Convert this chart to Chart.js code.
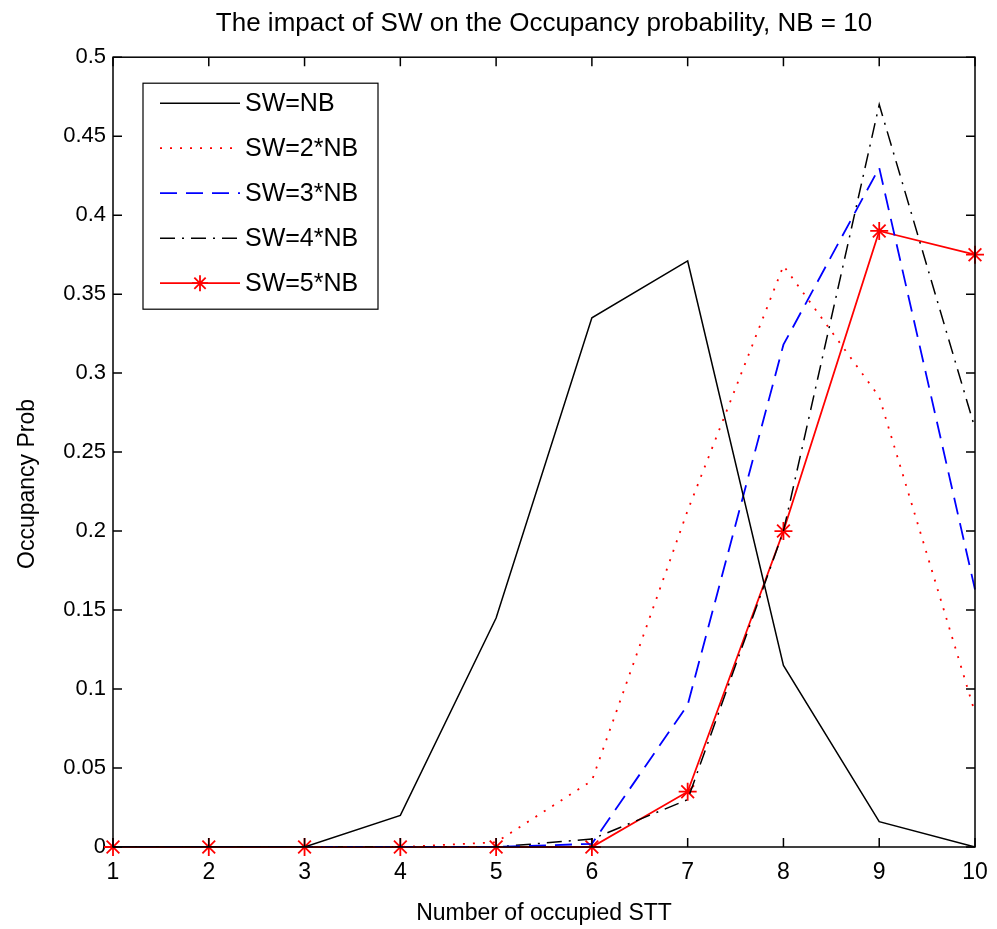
<!DOCTYPE html>
<html><head><meta charset="utf-8">
<script src="https://cdn.jsdelivr.net/npm/chart.js@4/dist/chart.umd.min.js"></script>
<style>html,body{margin:0;padding:0;background:#fff}#wrap{width:997px;height:929px}</style>
</head><body><div id="wrap"><canvas id="c" width="997" height="929"></canvas></div>
<script>
const categories = [1,2,3,4,5,6,7,8,9,10];
const swNB  = [0,0,0,0.020,0.145,0.335,0.371,0.115,0.016,0];
const sw2NB = [0,0,0,0,0.003,0.042,0.213,0.368,0.285,0.085];
const sw3NB = [0,0,0,0,0,0.002,0.090,0.318,0.430,0.163];
const sw4NB = [0,0,0,0,0,0.005,0.030,0.200,0.470,0.265];
const sw5NB = [0,0,0,0,0,0,0.035,0.200,0.390,0.375];
const seriesLabels = ['SW=NB','SW=2*NB','SW=3*NB','SW=4*NB','SW=5*NB'];
const yTickLabels = ['0','0.05','0.1','0.15','0.2','0.25','0.3','0.35','0.4','0.45','0.5'];
const yAxisTitle = 'Occupancy Prob';
const FONT = "'Liberation Sans Narrow','Liberation Sans',Arial,sans-serif";

const boxPlugin = {
  id:'box',
  afterDatasetsDraw(chart){
    const {ctx, chartArea:a, scales:{x,y}} = chart;
    ctx.save();
    ctx.strokeStyle='#000'; ctx.lineWidth=1.5;
    ctx.strokeRect(a.left, a.top, a.right-a.left, a.bottom-a.top);
    const L=9;
    ctx.beginPath();
    x.ticks.forEach((t,i)=>{const px=x.getPixelForTick(i);
      ctx.moveTo(px,a.bottom);ctx.lineTo(px,a.bottom-L);
      ctx.moveTo(px,a.top);ctx.lineTo(px,a.top+L);});
    y.ticks.forEach((t,i)=>{const py=y.getPixelForTick(i);
      ctx.moveTo(a.left,py);ctx.lineTo(a.left+L,py);
      ctx.moveTo(a.right,py);ctx.lineTo(a.right-L,py);});
    ctx.stroke();
    // legend
    const bx=a.left+30, by=a.top+26, bw=235, bh=226;
    ctx.fillStyle='#fff'; ctx.fillRect(bx,by,bw,bh);
    ctx.lineWidth=1.2; ctx.strokeRect(bx,by,bw,bh);
    ctx.font="25px "+FONT; ctx.textBaseline='middle'; ctx.textAlign='left';
    chart.data.datasets.forEach((ds,i)=>{
      const cy=by+20+i*45;
      ctx.strokeStyle=ds.borderColor; ctx.lineWidth=ds.borderWidth;
      ctx.setLineDash(ds.borderDash||[]);
      ctx.beginPath(); ctx.moveTo(bx+17,cy); ctx.lineTo(bx+97,cy); ctx.stroke();
      ctx.setLineDash([]);
      if(ds.pointRadius>0){
        const r=8, cx=bx+57; ctx.beginPath();
        for(let k=0;k<4;k++){const ang=k*Math.PI/4;
          ctx.moveTo(cx-r*Math.cos(ang),cy-r*Math.sin(ang));ctx.lineTo(cx+r*Math.cos(ang),cy+r*Math.sin(ang));}
        ctx.stroke();
      }
      ctx.fillStyle='#000'; ctx.fillText(ds.label,bx+102,cy+1);
    });
    // y axis title
    ctx.save();
    ctx.translate(28, 484); ctx.rotate(-Math.PI/2);
    ctx.font="23px "+FONT; ctx.textAlign='center'; ctx.textBaseline='middle'; ctx.fillStyle='#000';
    ctx.fillText(yAxisTitle,0,0);
    ctx.restore();
    ctx.restore();
  }
};

new Chart(document.getElementById('c'),{
  type:'line',
  data:{labels:categories,datasets:[
    {label:seriesLabels[0],data:swNB,borderColor:'#000',borderWidth:1.5,pointRadius:0},
    {label:seriesLabels[1],data:sw2NB,borderColor:'#ff0000',borderWidth:1.8,borderDash:[2,8],pointRadius:0},
    {label:seriesLabels[2],data:sw3NB,borderColor:'#0000ff',borderWidth:1.8,borderDash:[17,9],pointRadius:0},
    {label:seriesLabels[3],data:sw4NB,borderColor:'#000',borderWidth:1.5,borderDash:[15,7,2,7],pointRadius:0},
    {label:seriesLabels[4],data:sw5NB,borderColor:'#ff0000',borderWidth:1.8,pointRadius:9,pointStyle:'star',pointBorderColor:'#ff0000',pointBorderWidth:1.8,pointBackgroundColor:'#ff0000',clip:false}
  ]},
  options:{
    responsive:false,animation:false,
    layout:{padding:{left:0,right:22,top:0,bottom:0}},
    plugins:{legend:{display:false},tooltip:{enabled:false},
      title:{display:true,fullSize:false,text:'The impact of SW on the Occupancy probability, NB = 10',color:'#000',
        font:{family:FONT,size:26,weight:'normal'},padding:{top:8,bottom:18}}},
    scales:{
      x:{type:'category',offset:false,
        grid:{display:false,drawTicks:false},border:{display:false},
        ticks:{color:'#000',font:{family:FONT,size:23},padding:12,maxRotation:0},
        title:{display:true,text:'Number of occupied STT',color:'#000',font:{family:FONT,size:23},padding:{top:0,bottom:2}},
        afterFit(s){s.height=82;s.paddingRight=0;s.paddingLeft=0;}},
      y:{min:0,max:0.5,
        grid:{display:false,drawTicks:false},border:{display:false},
        ticks:{stepSize:0.05,color:'#000',font:{family:FONT,size:22},padding:7,
          callback:(v,i)=>yTickLabels[i]},
        title:{display:false},
        afterFit(s){s.width=113;}}
    }
  },
  plugins:[boxPlugin]
});
</script></body></html>
